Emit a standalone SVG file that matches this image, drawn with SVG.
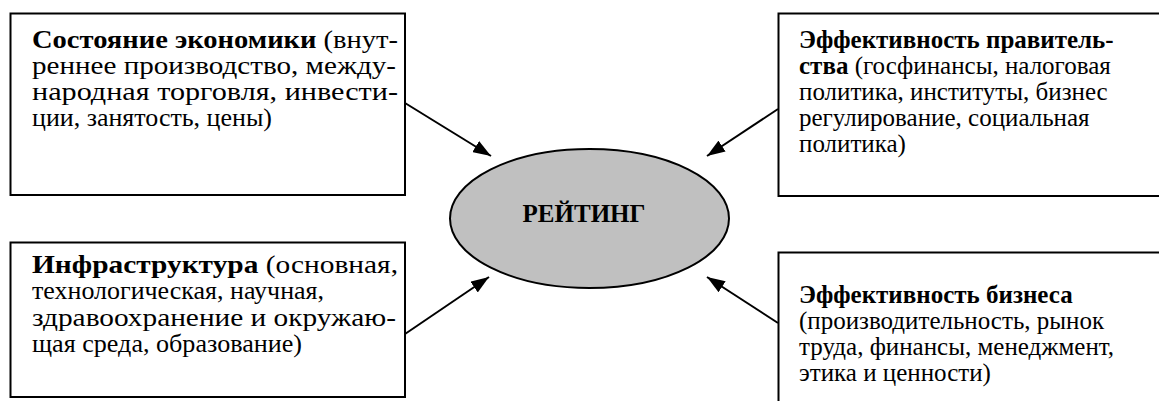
<svg xmlns="http://www.w3.org/2000/svg" width="1159" height="401" viewBox="0 0 1159 401">
<style>
.box{fill:#fff;stroke:#000;stroke-width:2}
.con{stroke:#000;stroke-width:2;fill:none}
.t{font-family:"Liberation Serif","Times New Roman",serif;font-size:25px;fill:#000}
.b{font-weight:bold}
</style>
<defs>
<marker id="ah" viewBox="0 0 18 13" refX="18" refY="6.5" markerWidth="18" markerHeight="13" markerUnits="userSpaceOnUse" orient="auto">
<path d="M0,0 L18,6.5 L0,13 Z" fill="#000"/>
</marker>
</defs>
<rect width="1159" height="401" fill="#fff"/>
<g id="connectors">
<line class="con" x1="405" y1="103" x2="491" y2="156" marker-end="url(#ah)"/>
<line class="con" x1="778" y1="109" x2="707" y2="156" marker-end="url(#ah)"/>
<line class="con" x1="405" y1="334" x2="489" y2="277" marker-end="url(#ah)"/>
<line class="con" x1="778" y1="323" x2="707" y2="277" marker-end="url(#ah)"/>
</g>
<g id="economy">
<rect class="box" x="10.5" y="13.5" width="394.5" height="181.5"/>
<text class="t" x="32" y="48" textLength="366" lengthAdjust="spacingAndGlyphs"><tspan class="b">Состояние экономики</tspan> (внут-</text>
<text class="t" x="32" y="74" textLength="364" lengthAdjust="spacingAndGlyphs">реннее производство, между-</text>
<text class="t" x="32" y="100" textLength="366" lengthAdjust="spacingAndGlyphs">народная торговля, инвести-</text>
<text class="t" x="32" y="126" textLength="240" lengthAdjust="spacingAndGlyphs">ции, занятость, цены)</text>
</g>
<g id="government">
<rect class="box" x="778.5" y="13.5" width="400" height="182.5"/>
<text class="t b" x="799" y="48">Эффективность правитель-</text>
<text class="t" x="799" y="74"><tspan class="b">ства</tspan> (госфинансы, налоговая</text>
<text class="t" x="799" y="100">политика, институты, бизнес</text>
<text class="t" x="799" y="126">регулирование, социальная</text>
<text class="t" x="799" y="152">политика)</text>
</g>
<g id="infrastructure">
<rect class="box" x="10.5" y="242.5" width="394.5" height="154.5"/>
<text class="t" x="32" y="273" textLength="366" lengthAdjust="spacingAndGlyphs"><tspan class="b">Инфраструктура</tspan> (основная,</text>
<text class="t" x="32" y="299" textLength="292" lengthAdjust="spacingAndGlyphs">технологическая, научная,</text>
<text class="t" x="32" y="326" textLength="364" lengthAdjust="spacingAndGlyphs">здравоохранение и окружаю-</text>
<text class="t" x="32" y="352" textLength="270" lengthAdjust="spacingAndGlyphs">щая среда, образование)</text>
</g>
<g id="business">
<rect class="box" x="778.5" y="252.5" width="400" height="170"/>
<text class="t b" x="799" y="303">Эффективность бизнеса</text>
<text class="t" x="799" y="329">(производительность, рынок</text>
<text class="t" x="799" y="355">труда, финансы, менеджмент,</text>
<text class="t" x="799" y="381">этика и ценности)</text>
</g>
<g id="rating">
<ellipse cx="589.5" cy="218.5" rx="139.5" ry="69.5" fill="#c0c0c0" stroke="#000" stroke-width="2"/>
<text class="t b" x="584" y="222" text-anchor="middle">РЕЙТИНГ</text>
</g>
</svg>
